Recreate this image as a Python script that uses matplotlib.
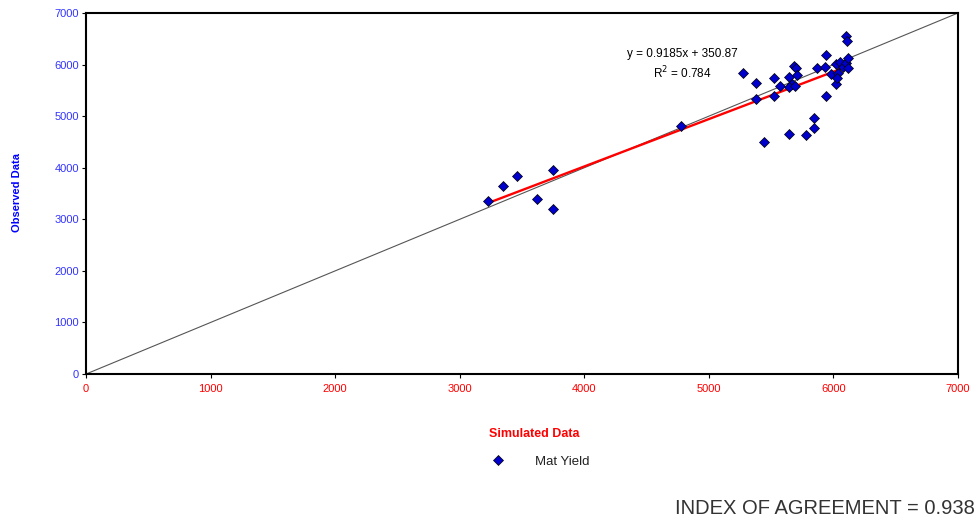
import matplotlib
matplotlib.use("Agg")
import matplotlib.pyplot as plt
import numpy as np

plt.rcParams['font.family'] = ['Liberation Sans', 'DejaVu Sans']

# simulated vs observed mat yield
simulated = [3230, 3350, 3460, 3620, 3750, 3750, 4780, 5270, 5380, 5380,
             5520, 5520, 5570, 5640, 5680, 5700, 5670, 5710, 5640, 5690,
             5640, 5440, 5780, 5845, 5845, 5870, 5930, 5940, 5940, 5980,
             6020, 6040, 6020, 6050, 6080, 6100, 6100, 6110, 6120, 6120,
             6030]
observed = [3350, 3650, 3840, 3400, 3960, 3200, 4810, 5840, 5650, 5330,
            5740, 5400, 5580, 5760, 5970, 5930, 5620, 5800, 5570, 5580,
            4660, 4500, 4640, 4770, 4960, 5930, 5950, 6180, 5390, 5820,
            5620, 5840, 6010, 6050, 5950, 6040, 6550, 6460, 6130, 5930,
            5740]
slope, intercept = 0.9185, 350.87
r2 = 0.784
index_agreement = 0.938
ticks = [0, 1000, 2000, 3000, 4000, 5000, 6000, 7000]

fig = plt.figure(figsize=(9.8, 5.22), dpi=100)
ax = fig.add_axes([0.0878, 0.2835, 0.8898, 0.6916])

# 1:1 line
ax.plot([0, 7000], [0, 7000], color='#555555', lw=0.8, zorder=2)

# trend line over the data range
xs = np.array([min(simulated), max(simulated)])
ax.plot(xs, slope * xs + intercept, color='red', lw=1.7, zorder=3)

ax.plot(simulated, observed, ls='none', marker='D', markersize=5.6,
        markerfacecolor='#0000cc', markeredgecolor='black',
        markeredgewidth=0.5, label='Mat Yield', zorder=4)

ax.set_xlim(0, 7000)
ax.set_ylim(0, 7000)
ax.set_xticks(ticks)
ax.set_yticks(ticks)
ax.tick_params(axis='x', colors='black', labelcolor='red', labelsize=8,
               length=3, direction='out', pad=4)
ax.tick_params(axis='y', colors='black', labelcolor='#3333ff', labelsize=8,
               length=3, direction='out', pad=2)
for s in ax.spines.values():
    s.set_linewidth(1.5)
    s.set_color('black')

ax.text(4790, 6205, 'y = %.4fx + %.2f' % (slope, intercept), fontsize=8.5,
        ha='center', va='center')
ax.text(4790, 5837, 'R$^2$ = %.3f' % r2, fontsize=8.5,
        ha='center', va='center')

fig.text(0.017, 0.632, 'Observed Data', rotation=90, color='#0000ff',
         fontweight='bold', fontsize=8, ha='center', va='center')
fig.text(0.545, 0.168, 'Simulated Data', color='red', fontweight='bold',
         fontsize=9, ha='center', va='center')

leg = fig.legend(loc='center', bbox_to_anchor=(0.548, 0.115), frameon=False,
                 fontsize=9.5, handletextpad=1.8, markerscale=0.85)
for t in leg.get_texts():
    t.set_color('#222222')

fig.text(0.995, 0.025, 'INDEX OF AGREEMENT = %.3f' % index_agreement,
         fontsize=14.5, color='#333333', ha='right', va='center')

fig.savefig('out.png', dpi=100)
